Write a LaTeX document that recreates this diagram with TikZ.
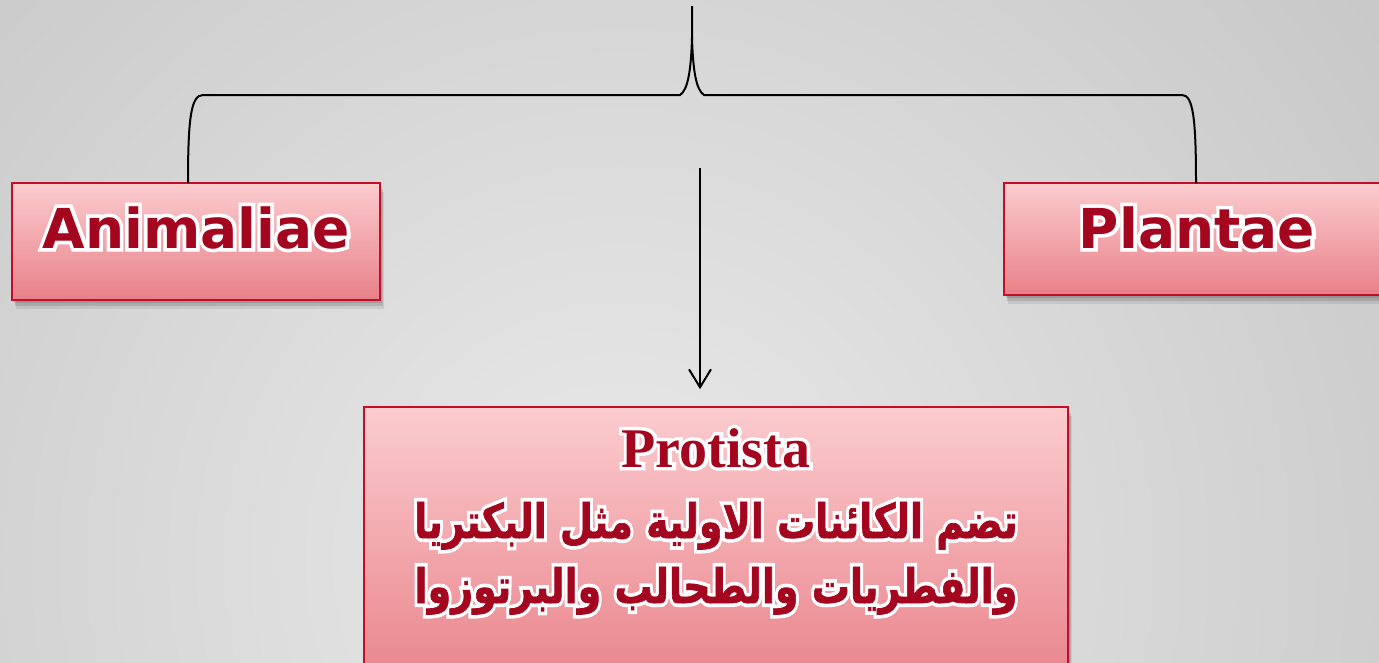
\documentclass[tikz,border=0pt]{standalone}
\usepackage{fontspec}
\usepackage{graphicx}
\usetikzlibrary{arrows.meta,shadows}
\TeXXeTstate=1
\newfontfamily\latsans{DejaVu Sans Bold}
\newfontfamily\latsansW{DejaVu Sans Bold}[FakeBold=13]
\newfontfamily\latserif{Liberation Serif Bold}
\newfontfamily\latserifW{Liberation Serif Bold}[FakeBold=12]
\newfontfamily\arabicR[Script=Arabic,FakeBold=1.5]{DejaVu Sans Bold}
\newfontfamily\arabicW[Script=Arabic,FakeBold=17]{DejaVu Sans Bold}
\definecolor{bgin}{RGB}{234,234,234}
\definecolor{bgout}{RGB}{192,192,192}
\definecolor{boxtop}{RGB}{251,204,207}
\definecolor{boxbot}{RGB}{232,128,136}
\definecolor{boxline}{RGB}{196,14,40}
\definecolor{textred}{RGB}{164,6,32}
\newcommand\haloLat[2]{\rlap{\color{white}#1}{#2}}
\tikzset{
  kbox/.style={draw=boxline, line width=1.6pt, top color=boxtop, bottom color=boxbot,
    inner sep=0pt, text=textred,
    drop shadow={shadow xshift=2pt, shadow yshift=-3pt, opacity=0.12, fill=black},
    drop shadow={shadow xshift=3pt, shadow yshift=-6pt, opacity=0.12, fill=black},
    drop shadow={shadow xshift=4pt, shadow yshift=-9pt, opacity=0.08, fill=black}},
  conn/.style={line width=2pt, black},
  arr/.style={line width=2pt, black, -{Straight Barb[length=18pt,width=22pt,line width=2pt]}}
}
\begin{document}
\begin{tikzpicture}[x=1pt,y=-1pt]
\useasboundingbox (0,0) rectangle (1379,662);
\begin{scope}
\clip (0,0) rectangle (1379,662);
\shade[inner color=bgin, outer color=bgout] (620,560) circle (1150);
\end{scope}
% boxes
\node[kbox, minimum width=368pt, minimum height=117pt, text height=50pt, text depth=37pt] (anim) at (196,241.5)
  {\fontsize{55}{60}\selectfont\haloLat{\latsansW Animaliae}{\latsans Animaliae}};
\node[kbox, minimum width=386pt, minimum height=112pt, text height=50pt, text depth=32pt] (plant) at (1197,239)
  {\fontsize{55}{60}\selectfont\haloLat{\latsansW Plantae}{\latsans Plantae}};
\node[kbox, minimum width=704pt, minimum height=290pt, text height=45pt, text depth=215pt] (prot) at (716,552)
  {\renewcommand\arraystretch{0}\begin{tabular}[t]{c}
   \rule[-10pt]{0pt}{50pt}{\fontsize{56}{60}\selectfont\haloLat{\latserifW Protista}{\latserif Protista}}\\
   \rule[-15pt]{0pt}{76pt}\scalebox{1}[1.25]{\fontsize{38}{60}\selectfont\haloLat{\arabicW\beginR تضم الكائنات الاولية مثل البكتريا\endR}{\arabicR\beginR تضم الكائنات الاولية مثل البكتريا\endR}}\\
   \rule[-15pt]{0pt}{65pt}\scalebox{1}[1.25]{\fontsize{38}{60}\selectfont\haloLat{\arabicW\beginR والفطريات والطحالب والبرتوزوا\endR}{\arabicR\beginR والفطريات والطحالب والبرتوزوا\endR}}
  \end{tabular}};
% brace
\coordinate (top) at (692,6);
\coordinate (la) at (188,183);
\coordinate (ra) at (1196,183);
\draw[conn] (la) .. controls (188,118) and (191,95) .. (203,95) -- (680,95)
  .. controls (688,90) and (691,70) .. (692,38) -- (top);
\draw[conn] (ra) .. controls (1196,118) and (1193,95) .. (1182,95) -- (704,95)
  .. controls (696,90) and (693,70) .. (692,38);
% arrow
\coordinate (as) at (700,168);
\draw[arr] (as) -- (as |- prot.north) [shorten >=17pt];
\end{tikzpicture}
\end{document}
